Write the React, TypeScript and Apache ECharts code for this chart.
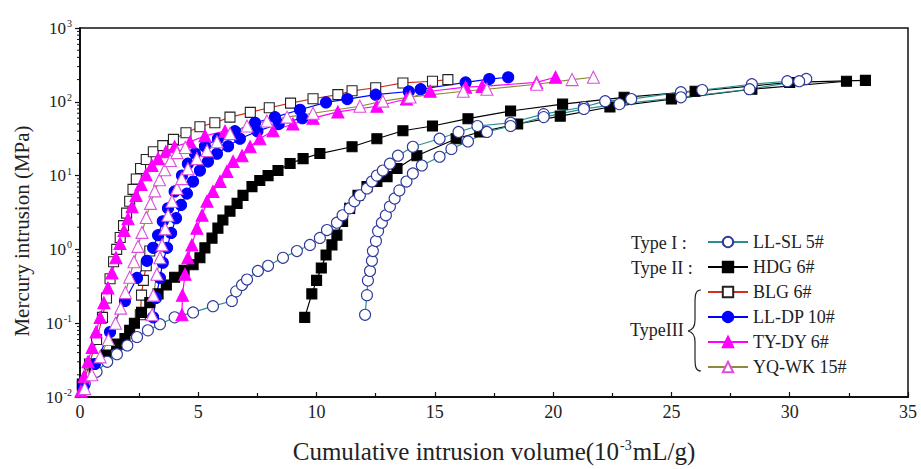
import React, { useEffect, useRef } from 'react';
import * as echarts from 'echarts';

const FONT = "'Liberation Serif', 'Times New Roman', serif";

// ---- tick labels ----
const xTickValues = [0, 5, 10, 15, 20, 25, 30, 35];
const yTickExponents = [-2, -1, 0, 1, 2, 3];

// ---- titles, legend / type labels ----
const yTitle = 'Mercury intrusion (MPa)';
const legendNames = ['LL-SL 5#', 'HDG 6#', 'BLG 6#', 'LL-DP 10#', 'TY-DY 6#', 'YQ-WK 15#'];
const typeLabels = ['Type I :', 'Type II :', 'TypeIII'];

// ---- data: [cumulative volume (10^-3 mL/g), pressure (MPa)] ----
const llslA = [
  [0.2, 0.015], [0.7, 0.022], [1.15, 0.03], [1.56, 0.038], [2.0, 0.05], [2.41, 0.065], [2.87, 0.08],
  [3.38, 0.097], [4.0, 0.12], [4.78, 0.14], [5.62, 0.17], [6.42, 0.2], [6.6, 0.27], [6.85, 0.33],
  [7.06, 0.39], [7.52, 0.51], [7.95, 0.6], [8.58, 0.77], [9.17, 0.95], [9.72, 1.15], [10.14, 1.43],
  [10.44, 1.83], [10.86, 2.3], [11.1, 2.9], [11.4, 3.6], [11.6, 4.5], [11.83, 5.4], [12.13, 6.7],
  [12.34, 8.3], [12.55, 10], [12.8, 11.7], [13.1, 14.5], [13.44, 18.6], [14.07, 24.6], [15.2, 31.6],
  [16.0, 39], [16.8, 47], [18.2, 52], [19.6, 68], [21.3, 85], [22.2, 102], [23.3, 109], [25.4, 135],
  [26.3, 144], [28.4, 173], [29.9, 190], [30.7, 204],
];
const llslB = [
  [12.05, 0.13], [12.13, 0.24], [12.17, 0.38], [12.26, 0.51], [12.34, 0.7], [12.38, 0.95], [12.51, 1.3],
  [12.6, 1.77], [12.76, 2.3], [12.93, 2.9], [13.1, 3.8], [13.3, 4.9], [13.5, 6.3], [13.8, 8.3],
  [14.07, 10.7], [14.45, 13.7], [15.2, 18], [15.7, 23], [16.4, 29], [17.2, 39], [18.2, 47], [19.6, 62],
  [21.3, 80], [22.8, 93], [25.4, 115], [28.3, 148], [30.4, 190],
];
const hdgA = [
  [0.1, 0.015], [0.6, 0.024], [1.1, 0.037], [1.55, 0.052], [1.9, 0.062], [2.1, 0.08], [2.3, 0.1],
  [2.6, 0.14], [2.95, 0.19], [3.3, 0.25], [3.65, 0.33], [4.0, 0.42], [4.4, 0.52], [4.78, 0.62],
  [5.07, 0.77], [5.28, 1.05], [5.58, 1.42], [5.83, 1.94], [6.04, 2.5], [6.34, 3.3], [6.64, 4.2],
  [6.89, 5.4], [7.27, 7.1], [7.6, 8.6], [7.95, 10], [8.37, 11.7], [8.88, 14.6], [9.43, 17],
  [10.14, 19.9], [11.5, 24.6], [12.55, 31.6], [13.65, 40.5], [14.9, 47], [16.4, 59], [18.2, 75],
  [20.4, 93], [23.0, 115], [26.0, 139], [30.0, 183], [33.2, 195],
];
const hdgB = [
  [9.5, 0.12], [9.8, 0.25], [10.0, 0.38], [10.2, 0.56], [10.4, 0.84], [10.65, 1.15], [10.86, 1.56],
  [11.1, 2.4], [11.4, 3.6], [11.75, 5.4], [12.13, 7.1], [12.55, 8.3], [12.98, 9.7], [13.4, 12.5],
  [14.24, 18.6], [15.9, 31.6], [16.9, 39], [18.5, 50], [20.3, 64], [22.4, 85], [25.0, 109],
  [28.4, 148], [32.4, 190],
];
const blgA = [
  [0.1, 0.014], [0.4, 0.028], [0.7, 0.06], [0.95, 0.12], [1.12, 0.22], [1.27, 0.4], [1.42, 0.68],
  [1.55, 1.0], [1.7, 1.45], [1.84, 2.1], [1.97, 3.1], [2.1, 4.5], [2.24, 6.5], [2.38, 9], [2.56, 12.5],
  [2.8, 16.5], [3.1, 21], [3.5, 25.5], [3.95, 31], [4.48, 38], [5.07, 46], [5.7, 52], [6.34, 62],
  [7.2, 72], [8.0, 83], [8.9, 96], [9.85, 110], [10.9, 125], [11.5, 141], [12.5, 155], [13.65, 180],
  [14.9, 190], [15.55, 200],
];
const blgB = [[2.55, 0.13], [2.6, 0.24], [2.68, 0.38], [2.8, 0.6], [2.95, 0.95]];
const lldpA = [
  [0.15, 0.014], [0.63, 0.028], [1.27, 0.076], [1.9, 0.2], [2.41, 0.41], [2.83, 0.7], [3.09, 1.05],
  [3.3, 1.56], [3.5, 2.4], [3.72, 3.6], [4.0, 6.1], [4.31, 10], [4.56, 14.5], [4.86, 20], [5.28, 25],
  [5.83, 31.5], [6.55, 40], [7.4, 52], [8.24, 62], [9.3, 78], [10.4, 98], [11.3, 109], [12.5, 125],
  [13.9, 138], [14.4, 148], [16.3, 183], [17.3, 203], [18.1, 215],
];
const lldpB = [
  [3.09, 0.12], [3.21, 0.22], [3.38, 0.41], [3.5, 0.66], [3.68, 1.05], [3.85, 1.67], [4.06, 2.65],
  [4.27, 4.0], [4.52, 5.7], [4.78, 8.3], [5.07, 11.7], [5.41, 15.5], [5.79, 19.8], [6.26, 25],
  [6.76, 31.6], [7.5, 40], [8.4, 50], [9.4, 60],
];
const tydyA = [
  [0.04, 0.012], [0.17, 0.019], [0.34, 0.03], [0.51, 0.047], [0.68, 0.076], [0.85, 0.12], [1.01, 0.19],
  [1.18, 0.3], [1.35, 0.48], [1.52, 0.77], [1.69, 1.2], [1.86, 1.8], [2.03, 2.6], [2.2, 3.8],
  [2.37, 5.4], [2.58, 7.6], [2.79, 10.3], [3.04, 13.7], [3.3, 17], [3.63, 21], [4.0, 24.6],
  [4.65, 28.6], [5.28, 34.6], [6.13, 40],
];
const tydyB = [
  [4.31, 0.13], [4.33, 0.24], [4.44, 0.46], [4.56, 0.77], [4.73, 1.15], [4.94, 1.94], [5.16, 2.9],
  [5.37, 4.5], [5.62, 6.1], [5.92, 8.3], [6.21, 11.4], [6.47, 15.5], [6.85, 18.6], [7.19, 24.6],
  [7.6, 31.6], [8.16, 40.5], [9.0, 50], [9.85, 60], [10.9, 73], [12.55, 87], [13.8, 109], [14.8, 139],
  [16.3, 158], [17.0, 162], [19.3, 183], [20.1, 215],
];
const yqwkA = [
  [0.2, 0.013], [0.5, 0.02], [0.85, 0.035], [1.2, 0.06], [1.5, 0.1], [1.72, 0.16], [1.92, 0.26],
  [2.1, 0.42], [2.28, 0.68], [2.45, 1.1], [2.62, 1.7], [2.8, 2.7], [2.98, 4.2], [3.16, 6.2],
  [3.36, 8.8], [3.58, 12], [3.82, 16], [4.1, 20.5], [4.45, 24],
];
const yqwkB = [
  [3.05, 0.13], [3.1, 0.24], [3.25, 0.46], [3.38, 0.77], [3.47, 1.15], [3.6, 1.9], [3.72, 2.9],
  [3.89, 4.5], [4.1, 6.7], [4.3, 9.1], [4.56, 12.4], [4.94, 17], [5.37, 21.8], [5.79, 28.7],
  [6.34, 37], [7.06, 47], [7.9, 55], [8.75, 62], [9.85, 70], [11.83, 87], [12.8, 102], [13.95, 116],
  [16.2, 139], [17.2, 148], [19.3, 173], [20.8, 200], [21.7, 215],
];

const braceD =
  'M 701 290 C 695 290 695 296 695 304 L 695 320 C 695 327 693 330 688 331 C 693 332 695 335 695 342 L 695 357 C 695 365 695 371 701 371';
let braceRegistered = false;
function registerBrace() {
  if (braceRegistered) return;
  echarts.graphic.registerShape('brace', echarts.graphic.extendPath(braceD, {}) as any);
  braceRegistered = true;
}

type Style = {
  name: string;
  symbol: string;
  size: number;
  fill: string;
  border: string;
  line: string;
};
const styles: Record<string, Style> = {
  llsl: { name: 'LL-SL 5#', symbol: 'circle', size: 11, fill: '#ffffff', border: '#2e3a9c', line: '#2a8f8f' },
  hdg: { name: 'HDG 6#', symbol: 'rect', size: 10, fill: '#000000', border: '#000000', line: '#000000' },
  blg: { name: 'BLG 6#', symbol: 'rect', size: 10, fill: '#ffffff', border: '#222222', line: '#d2301e' },
  lldp: { name: 'LL-DP 10#', symbol: 'circle', size: 11, fill: '#0000ff', border: '#0000ff', line: '#0000ff' },
  tydy: { name: 'TY-DY 6#', symbol: 'triangle', size: 12, fill: '#ff00ff', border: '#ff00ff', line: '#ff00ff' },
  yqwk: { name: 'YQ-WK 15#', symbol: 'triangle', size: 12, fill: '#ffffff', border: '#dd4fdd', line: '#8c8a3c' },
};

function mk(key: string, data: number[][]) {
  const s = styles[key];
  return {
    type: 'line',
    name: s.name,
    data,
    symbol: s.symbol,
    symbolSize: s.size,
    showSymbol: true,
    lineStyle: { color: s.line, width: 1.2 },
    itemStyle: { color: s.fill, borderColor: s.border, borderWidth: 1.1, opacity: 1 },
    emphasis: { disabled: true },
    silent: true,
  };
}

export default function App() {
  const ref = useRef<HTMLDivElement>(null);
  useEffect(() => {
    if (!ref.current) return;
    registerBrace();
    const chart = echarts.init(ref.current, null, { renderer: 'svg' });

    const minorY: number[][] = [];
    for (let e = yTickExponents[0]; e < yTickExponents[yTickExponents.length - 1]; e++) {
      for (let k = 2; k <= 9; k++) minorY.push([0, k * Math.pow(10, e)]);
    }

    const supRich = {
      b: { fontSize: 17, fontFamily: FONT, color: '#222' },
      s: { fontSize: 10, fontFamily: FONT, color: '#222', verticalAlign: 'top', padding: [0, 0, 9, 1] },
    };

    const typeText = (i: number, x: number, y: number) => ({
      type: 'text',
      x,
      y,
      style: { text: typeLabels[i], fontSize: 18, fontFamily: FONT, fill: '#222', verticalAlign: 'middle' },
    });

    chart.setOption({
      animation: false,
      backgroundColor: '#ffffff',
      grid: { left: 80, right: 13, top: 28, bottom: 69, show: true, borderColor: '#111', borderWidth: 1.5, containLabel: false },
      xAxis: {
        type: 'value',
        min: xTickValues[0],
        max: xTickValues[xTickValues.length - 1],
        interval: 5,
        axisLine: { show: true, lineStyle: { color: '#111', width: 2 } },
        axisTick: { show: true, inside: true, length: 5, lineStyle: { color: '#111', width: 1.2 } },
        minorTick: { show: true, splitNumber: 2, length: 4, lineStyle: { color: '#111', width: 1.2 } },
        splitLine: { show: false },
        axisLabel: { color: '#222', fontSize: 18, fontFamily: FONT, margin: 6 },
        name: '{a|Cumulative intrusion volume(10}{s|-3}{a|mL/g)}',
        nameLocation: 'middle',
        nameGap: 41,
        nameTextStyle: {
          rich: {
            a: { fontSize: 25, fontFamily: FONT, color: '#222' },
            s: { fontSize: 14, fontFamily: FONT, color: '#222', verticalAlign: 'top', padding: [0, 1, 13, 1] },
          },
        },
      },
      yAxis: {
        type: 'log',
        logBase: 10,
        min: Math.pow(10, yTickExponents[0]),
        max: Math.pow(10, yTickExponents[yTickExponents.length - 1]),
        axisLine: { show: true, lineStyle: { color: '#111', width: 2 } },
        axisTick: { show: true, inside: false, length: 5, lineStyle: { color: '#111', width: 1.2 } },
        splitLine: { show: false },
        axisLabel: {
          margin: 8,
          formatter: (v: number) => `{b|10}{s|${Math.round(Math.log10(v))}}`,
          rich: supRich,
        },
      },
      legend: {
        data: legendNames,
        orient: 'vertical',
        left: 702,
        top: 228,
        itemWidth: 40,
        itemHeight: 13,
        itemGap: 7,
        textStyle: { fontSize: 18, fontFamily: FONT, color: '#222', padding: [0, 0, 0, 0] },
        selectedMode: false,
      },
      graphic: [
        {
          type: 'text',
          x: 22,
          y: 231,
          rotation: Math.PI / 2,
          style: { text: yTitle, fontSize: 21, fontFamily: FONT, fill: '#222', align: 'center', verticalAlign: 'middle' },
        },
        typeText(0, 631, 243),
        typeText(1, 631, 268),
        typeText(2, 630, 330),
        { type: 'brace', x: 0, y: 0, style: { stroke: '#222', fill: 'none', lineWidth: 1.2 } },
      ],
      series: [
        {
          type: 'custom',
          name: 'minorY',
          data: minorY,
          silent: true,
          clip: false,
          z: 5,
          renderItem: (params: any, api: any) => {
            const p = api.coord([api.value(0), api.value(1)]);
            return {
              type: 'line',
              shape: { x1: p[0] - 3, y1: p[1], x2: p[0], y2: p[1] },
              style: { stroke: '#111', lineWidth: 1 },
            };
          },
        },
        mk('blg', blgA),
        mk('blg', blgB),
        mk('hdg', hdgA),
        mk('hdg', hdgB),
        mk('llsl', llslA),
        mk('llsl', llslB),
        mk('lldp', lldpA),
        mk('lldp', lldpB),
        mk('tydy', tydyA),
        mk('tydy', tydyB),
        mk('yqwk', yqwkA),
        mk('yqwk', yqwkB),
      ],
    });
    return () => chart.dispose();
  }, []);
  return (
    <div
      ref={ref}
      style={{ position: 'fixed', left: 0, top: 0, width: 921, height: 469, background: '#fff' }}
    />
  );
}
